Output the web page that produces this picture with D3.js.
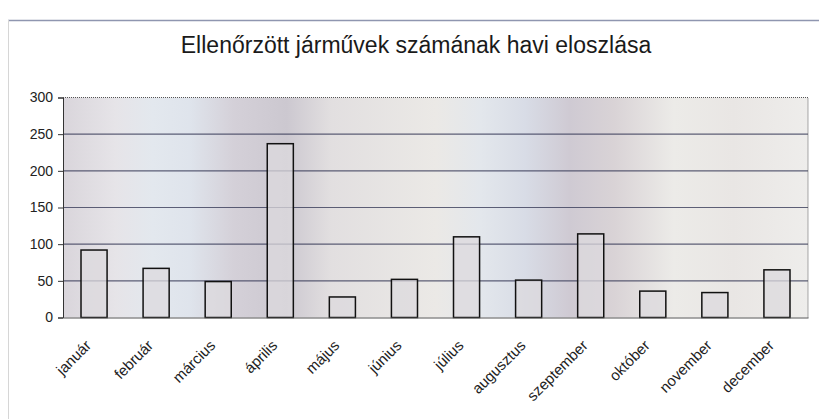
<!DOCTYPE html>
<html><head><meta charset="utf-8">
<script src="https://cdn.jsdelivr.net/npm/d3@7/dist/d3.min.js"></script>
<style>body{margin:0;background:#fff;}svg{display:block;font-family:"Liberation Sans",Arial,sans-serif;}</style>
</head><body><svg id="c" width="819" height="419"></svg>
<script>
const title = "Ellenőrzött járművek számának havi eloszlása";
const months = ["január","február","március","április","május","június","július","augusztus","szeptember","október","november","december"];
const counts = [92,67,49,237,28,52,110,51,114,36,34,65];
const yTicks = [0,50,100,150,200,250,300];

const svg = d3.select("#c");
const m = {l:63, r:808, t:97.5, b:317.5};

// chart frame
svg.append("line").attr("x1",8).attr("x2",819).attr("y1",20.5).attr("y2",20.5).attr("stroke","#8f96b0").attr("stroke-width",1.5);
svg.append("line").attr("x1",8.5).attr("x2",8.5).attr("y1",20).attr("y2",419).attr("stroke","#d6d6d6").attr("stroke-width",1);

svg.append("text").attr("x",416).attr("y",53).attr("text-anchor","middle").attr("font-size",23).attr("fill","#1a1a1a").text(title);

const x = d3.scaleBand().domain(months).range([m.l,m.r]).paddingInner(0.58).paddingOuter(0.29);
const y = d3.scaleLinear().domain([0,300]).range([m.b,m.t]);

// plot background gradient
const defs = svg.append("defs");
const g = defs.append("linearGradient").attr("id","bg").attr("x1","0%").attr("x2","100%");
[[0,"#d9d5db"],[0.07,"#e6e4e8"],[0.12,"#e3e8ee"],[0.17,"#dfe4ec"],[0.23,"#d4d0d8"],[0.3,"#ccc8d0"],[0.36,"#e2dfe0"],[0.5,"#ebe9e6"],[0.56,"#e3e7ec"],[0.62,"#d8dce6"],[0.68,"#cfcad3"],[0.74,"#d9d3d6"],[0.82,"#ecebe8"],[0.9,"#e9e6e4"],[1,"#eeedeb"]]
 .forEach(([o,c])=>g.append("stop").attr("offset",o).attr("stop-color",c));
svg.append("rect").attr("x",m.l).attr("y",m.t).attr("width",m.r-m.l).attr("height",m.b-m.t).attr("fill","url(#bg)");

// gridlines
svg.append("g").selectAll("line").data(yTicks.filter(d=>d>0 && d<300)).join("line")
  .attr("x1",m.l).attr("x2",m.r).attr("y1",d=>y(d)).attr("y2",d=>y(d))
  .attr("stroke","#3a3d5a").attr("stroke-width",1.2).attr("opacity",0.8);
// plot border dotted
svg.append("path").attr("d",`M${m.l},${m.t}H${m.r}V${m.b}`).attr("fill","none").attr("stroke","#555").attr("stroke-width",1).attr("stroke-dasharray","1,1");

// bars
svg.append("g").selectAll("rect").data(counts).join("rect")
  .attr("x",(d,i)=>x(months[i])).attr("width",x.bandwidth())
  .attr("y",d=>y(d)).attr("height",d=>y(0)-y(d))
  .attr("fill","#dcdadd").attr("fill-opacity",0.75).attr("stroke","#111").attr("stroke-width",1.5);

// y axis
const ya = svg.append("g").attr("transform",`translate(${m.l},0)`)
  .call(d3.axisLeft(y).tickValues(yTicks).tickSize(5).tickPadding(5));
ya.select(".domain").attr("stroke","#333");
ya.selectAll(".tick line").attr("stroke","#333");
ya.selectAll("text").attr("font-size",14).attr("fill","#222").attr("font-family","Liberation Sans, Arial, sans-serif");

// x axis
const xa = svg.append("g").attr("transform",`translate(0,${m.b})`)
  .call(d3.axisBottom(x).tickSize(0).tickPadding(0));
xa.select(".domain").attr("stroke","#555");
xa.selectAll("text").attr("font-size",15).attr("fill","#222").attr("font-family","Liberation Sans, Arial, sans-serif")
  .attr("text-anchor","end").attr("dy",0).attr("transform","translate(-2,29) rotate(-45)");
</script></body></html>
